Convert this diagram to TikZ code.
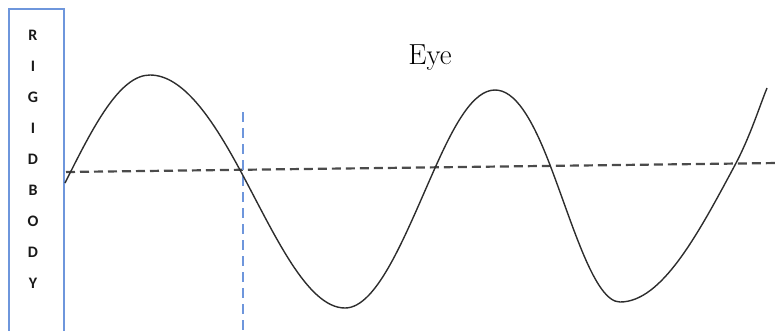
\documentclass[tikz,border=0pt]{standalone}
\usepackage{fontspec}
\newfontfamily\lblfont{Carlito}
\definecolor{boxblue}{RGB}{110,150,220}
\definecolor{wavegray}{RGB}{45,45,45}
\definecolor{dashgray}{RGB}{75,75,75}
\begin{document}
\begin{tikzpicture}[x=1pt,y=-1pt,
  letter/.style={font=\lblfont\bfseries\fontsize{16}{16}\selectfont, text=black!90, inner sep=0pt},
  wave/.style={draw=wavegray, line width=1.4pt},
  axisdash/.style={draw=dashgray, line width=2.2pt, dash pattern=on 9pt off 5pt},
  bluedash/.style={draw=boxblue, line width=1.3pt, dash pattern=on 10pt off 6pt}]
\useasboundingbox (0,0) rectangle (778,330);
\draw[boxblue, line width=1.4pt] (9,340) -- (9,9) -- (64,9) -- (64,340);
\foreach \l [count=\i from 0] in {R,I,G,I,D,B,O,D,Y}
  \node[letter] (l\i) at (33,35+31*\i) {\l};
\node[font=\fontsize{29}{29}\selectfont, inner sep=0pt] (eye) at (430,58) {Eye};
\coordinate (dl) at (66,172);
\coordinate (dr) at (778,163);
\draw[axisdash] (dl) -- (dr);
\coordinate (vt) at (243,112);
\coordinate (vb) at (243,330);
\draw[bluedash] (vt) -- (vb);
\draw[wave] (65,183)
  .. controls (92.7,127.7) and (119.2,75) .. (150,75)
  .. controls (182.6,75) and (212,118) .. (240,170)
  .. controls (274,233) and (307,308) .. (345,308)
  .. controls (377.6,308) and (406,233) .. (435,168)
  .. controls (454.6,124) and (473.3,90) .. (495,90)
  .. controls (514.9,90) and (532,118) .. (550,165)
  .. controls (573,225) and (594.7,302) .. (620,302)
  .. controls (661.6,302) and (697.5,235.1) .. (735,165)
  .. controls (750,137) and (760,105) .. (767,88);
\end{tikzpicture}
\end{document}
